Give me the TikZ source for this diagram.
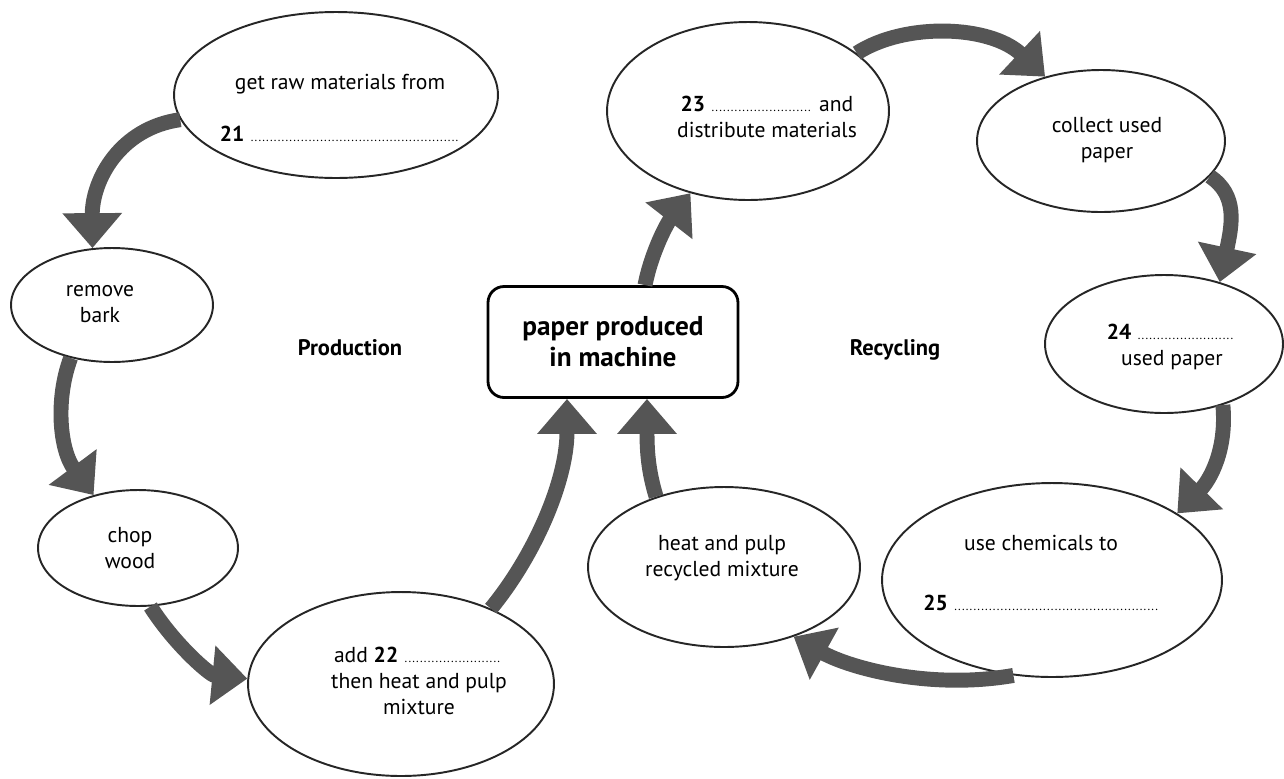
\documentclass[tikz,border=0pt]{standalone}
\usepackage{fontspec}
\setmainfont{PT Sans}
\usetikzlibrary{shapes.geometric,arrows.meta}
\definecolor{arr}{HTML}{555555}
\newcommand\gapline[1]{\makebox[#1]{\leaders\hbox to 2.2pt{\hss\scriptsize.\hss}\hfill}}
\begin{document}
\begin{tikzpicture}[x=0.02cm,y=-0.02cm,
  ell/.style={ellipse, draw=black!85, line width=1.1pt, inner sep=0pt},
  txt/.style={align=center, font=\fontsize{12.3}{15}\selectfont, inner sep=0pt},
  heading/.style={font=\fontsize{12.8}{14}\selectfont\bfseries, inner sep=0pt},
  flow/.style={draw=arr, line width=8.5pt, -{Triangle[width=1.15cm,length=0.7cm]}},
]
\useasboundingbox (0,0) rectangle (1284,778);

% ellipses
\node[ell, minimum width=6.48cm, minimum height=3.32cm] (raw) at (336,95) {};
\node[ell, minimum width=4.04cm, minimum height=2.28cm] (bark) at (112,305) {};
\node[ell, minimum width=4.0cm, minimum height=2.32cm] (chop) at (138,548) {};
\node[ell, minimum width=6.12cm, minimum height=3.68cm] (add) at (401,684) {};
\node[ell, minimum width=5.44cm, minimum height=3.2cm] (heat) at (724,567) {};
\node[ell, minimum width=6.8cm, minimum height=3.88cm] (chem) at (1052,580) {};
\node[ell, minimum width=4.76cm, minimum height=2.76cm] (used) at (1164,344) {};
\node[ell, minimum width=4.96cm, minimum height=2.84cm] (collect) at (1101,141) {};
\node[ell, minimum width=5.64cm, minimum height=3.56cm] (dist) at (748,111) {};

% central box
\node[draw=black, line width=1.6pt, rounded corners=0.32cm, minimum width=5.0cm, minimum height=2.22cm,
      align=center, font=\fontsize{15.5}{17.5}\selectfont\bfseries] (box) at (613,342) {paper produced\\in machine};

% texts
\node[txt] (traw) at (340,108) {get raw materials from\\[15pt]\textbf{21} \gapline{4.2cm}};
\node[txt] (tbark) at (100,304) {remove\\bark};
\node[txt] (tchop) at (130,548) {chop\\wood};
\node[txt] (tadd) at (419,681) {add \textbf{22} \gapline{2cm}\\then heat and pulp\\mixture};
\node[txt] (theat) at (722,558) {heat and pulp\\recycled mixture};
\node[txt] (tchem) at (1041,573) {use chemicals to\\[19pt]\textbf{25} \gapline{4.1cm}};
\node[txt] (tused) at (1172,347) {\textbf{24} \gapline{2cm}\\used paper};
\node[txt] (tcollect) at (1107,140) {collect used\\paper};
\node[txt] (tdist) at (767,117) {\textbf{23} \gapline{2.05cm} and\\distribute materials};

\node[heading] (prod) at (350,348) {Production};
\node[heading] (recy) at (895,350) {Recycling};

% arrows
\draw[flow] (raw.189) .. controls (120,128) and (92,180) .. (bark.109);
\draw[flow] (bark.232) .. controls (55,400) and (60,450) .. (chop.130);
\draw[flow] (chop.282) .. controls (175,645) and (210,675) .. (add.178);
\draw[flow] (add.40) .. controls (535,555) and (567,480) .. ([xshift=-0.92cm]box.south);
\draw[flow] (heat.134) .. controls (648,470) and (647,450) .. ([xshift=0.68cm]box.south);
\draw[flow] ([xshift=0.64cm]box.north) .. controls (652,250) and (668,222) .. (dist.235);
\draw[flow] (dist.28) .. controls (905,22) and (990,25) .. (collect.131);
\draw[flow] (collect.342) .. controls (1238,195) and (1232,225) .. (used.48);
\draw[flow] (used.314) .. controls (1227,450) and (1210,480) .. (chem.28);
\draw[flow] (chem.248) .. controls (930,690) and (850,668) .. (heat.315);
\end{tikzpicture}
\end{document}
